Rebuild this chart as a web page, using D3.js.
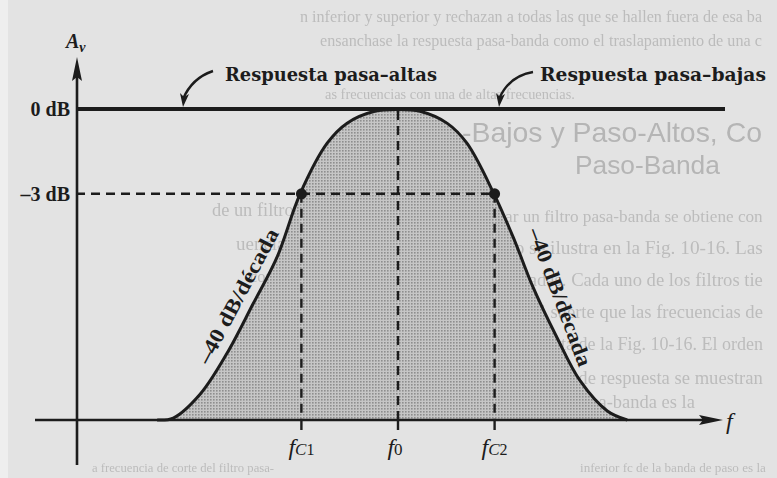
<!DOCTYPE html>
<html>
<head>
<meta charset="utf-8">
<script src="https://cdn.jsdelivr.net/npm/d3@7"></script>
<style>
  html, body { margin: 0; padding: 0; background: #e3e3e3; }
  svg { display: block; }
</style>
</head>
<body>
<svg id="chart" width="777" height="478"></svg>
<script>
// Band-pass response: normalised frequency position (0–100) and gain in dB
const freqPos = [12.6, 15.1, 19.3, 23.4, 27.5, 31.2, 34.8, 39.0, 42.1, 46.4, 50.0, 53.4, 57.6, 60.7, 64.9, 67.9, 71.0, 74.7, 78.3, 82.5, 85.6];
const gainDb  = [-11.0, -10.93, -10.08, -8.66, -6.89, -5.25, -3.0, -1.21, -0.50, -0.08, -0.02, -0.08, -0.50, -1.21, -3.0, -4.54, -6.32, -8.09, -9.62, -10.68, -11.0];

// Marked frequencies on the horizontal axis
const tickNames = ["fc1", "f0", "fc2"];
const tickPos   = [35, 50, 65];

// Gain levels marked on the vertical axis
const levelLabels = ["0 dB", "–3 dB"];
const levelDb     = [0, -3];

// Cut-off points (fc1, fc2) at the –3 dB level
const cutoffPos = [35, 65];
const cutoffDb  = [-3, -3];

// Callout texts
const calloutTexts = ["Respuesta pasa–altas", "Respuesta pasa–bajas"];
const slopeText = "–40 dB/década";

// Page text printed behind the figure (seen through the paper)
const backLines = [
  "n inferior y superior y rechazan a todas las que se hallen fuera de esa ba",
  "ensanchase la respuesta pasa-banda como el traslapamiento de una c",
  "as frecuencias con una de altas frecuencias.",
  "ar un filtro pasa-banda se obtiene con",
  "no se ilustra en la Fig. 10-16. Las",
  "paradas. Cada uno de los filtros tie",
  "de tal suerte que las frecuencias de",
  "ompuesta de la Fig. 10-16. El orden",
  "as curvas de respuesta se muestran",
  "del filtro pasa-banda es la",
  "inferior fc de la banda de paso es la",
  "de un filtro pasa-altas con",
  "uencias de corte están",
  "configuración Sallen y",
  "ada, indicadas en la",
  "filtro se escoge",
  "omo se indica. La",
  "a frecuencia de corte del filtro pasa-"
];
const backX   = [300, 320, 325, 505, 505, 505, 505, 505, 505, 505, 580, 212, 236, 250, 262, 290, 282, 92];
const backY   = [22, 46, 99, 222, 254, 286, 318, 350, 384, 408, 472, 216, 250, 282, 314, 346, 378, 472];
const backLen = [462, 442, 250, 258, 258, 258, 258, 258, 258, 190, 186, 190, 166, 150, 140, 112, 120, 182];
const headLines = ["-Bajos  y Paso-Altos, Co", "Paso-Banda"];
const headX   = [462, 575];
const headY   = [142, 174];
const headLen = [300, 145];

const svg = d3.select("#chart");
const W = 777, H = 478;

const x = d3.scaleLinear().domain([0, 100]).range([76, 720]);
const y = d3.scaleLinear().domain([-11, 0]).range([420, 109]);

const ink = "#1c1c1c";

// paper
svg.append("rect").attr("width", W).attr("height", H).attr("fill", "#e3e3e3");
svg.append("rect").attr("width", 8).attr("height", H).attr("fill", "#eeeeee");

const defs = svg.append("defs");
defs.append("filter").attr("id", "soft")
  .append("feGaussianBlur").attr("stdDeviation", 0.5);
const pat = defs.append("pattern").attr("id", "stipple")
  .attr("width", 3).attr("height", 3).attr("patternUnits", "userSpaceOnUse");
pat.append("rect").attr("width", 3).attr("height", 3).attr("fill", "#c6c6c6");
pat.append("rect").attr("width", 1.6).attr("height", 1.6).attr("fill", "#8e8e8e");

// size a line of text so that its natural width equals the wanted length
function fitWidth(sel, lens, base) {
  sel.each(function (d, i) {
    const node = this;
    node.setAttribute("font-size", base);
    const w = node.getComputedTextLength();
    if (w > 0) node.setAttribute("font-size", (base * lens[i] / w).toFixed(2));
  });
}

// show-through page text
const back = svg.append("g").attr("filter", "url(#soft)");
const bodyText = back.selectAll("text.body").data(backLines).join("text").attr("class", "body")
  .attr("x", (d, i) => backX[i]).attr("y", (d, i) => backY[i])
  .attr("font-family", "'Liberation Serif', serif")
  .attr("fill", "#bcbcbc").text(d => d);
fitWidth(bodyText, backLen, 19);
const headText = back.selectAll("text.head").data(headLines).join("text").attr("class", "head")
  .attr("x", (d, i) => headX[i]).attr("y", (d, i) => headY[i])
  .attr("font-family", "'Liberation Sans', sans-serif")
  .attr("fill", "#b5b5b5").text(d => d);
fitWidth(headText, headLen, 25);

const pts = freqPos.map((f, i) => [f, gainDb[i]]);
const curve = d3.curveCatmullRom.alpha(0.5);

// shaded pass band
const area = d3.area()
  .x(d => x(d[0])).y0(y(-11)).y1(d => y(d[1]))
  .curve(curve);
svg.append("path").datum(pts).attr("d", area).attr("fill", "url(#stipple)");

// dashed guides
const dash = "9,6";
svg.append("line")
  .attr("x1", x(0)).attr("x2", x(cutoffPos[1]))
  .attr("y1", y(-3)).attr("y2", y(-3))
  .attr("stroke", ink).attr("stroke-width", 2.4).attr("stroke-dasharray", dash);
svg.selectAll("line.guide").data(tickPos).join("line").attr("class", "guide")
  .attr("x1", d => x(d)).attr("x2", d => x(d))
  .attr("y1", (d, i) => i === 1 ? y(0) + 2 : y(-3))
  .attr("y2", y(-11))
  .attr("stroke", ink).attr("stroke-width", 2.4).attr("stroke-dasharray", dash);
// tick stubs below the axis
svg.selectAll("line.tick").data(tickPos).join("line").attr("class", "tick")
  .attr("x1", d => x(d)).attr("x2", d => x(d))
  .attr("y1", y(-11)).attr("y2", y(-11) + 10)
  .attr("stroke", ink).attr("stroke-width", 2.4);

// axes
svg.append("line").attr("x1", x(0) + 1).attr("x2", x(0) + 1)
  .attr("y1", 465).attr("y2", 70).attr("stroke", ink).attr("stroke-width", 2.6);
svg.append("path").attr("d", `M${x(0)+1},57 L${x(0)+6},81 L${x(0)+1},77 L${x(0)-4},81 Z`).attr("fill", ink);
svg.append("line").attr("x1", 35).attr("x2", 708)
  .attr("y1", y(-11)).attr("y2", y(-11)).attr("stroke", ink).attr("stroke-width", 2.6);
svg.append("path").attr("d", `M723,${y(-11)} L699,${y(-11)-5} L703,${y(-11)} L699,${y(-11)+5} Z`).attr("fill", ink);

// 0 dB reference line (high-pass and low-pass asymptotes)
svg.append("line").attr("x1", x(0)).attr("x2", 725)
  .attr("y1", y(0)).attr("y2", y(0)).attr("stroke", ink).attr("stroke-width", 4);

// response curve
const line = d3.line().x(d => x(d[0])).y(d => y(d[1])).curve(curve);
svg.append("path").datum(pts).attr("d", line)
  .attr("fill", "none").attr("stroke", ink).attr("stroke-width", 3);

// cut-off points
svg.selectAll("circle.cut").data(cutoffPos).join("circle").attr("class", "cut")
  .attr("cx", d => x(d)).attr("cy", (d, i) => y(cutoffDb[i])).attr("r", 5.5).attr("fill", ink);

// level labels
svg.selectAll("text.level").data(levelLabels).join("text").attr("class", "level")
  .attr("x", 70).attr("y", (d, i) => y(levelDb[i]) + 7)
  .attr("text-anchor", "end")
  .attr("font-family", "'Liberation Serif', serif").attr("font-weight", "bold")
  .attr("font-size", 20).attr("fill", ink).text(d => d);

// axis titles
const av = svg.append("text").attr("x", 66).attr("y", 48)
  .attr("font-family", "'Liberation Serif', serif").attr("font-style", "italic")
  .attr("font-weight", "bold").attr("fill", ink);
av.append("tspan").attr("font-size", 20).text("A");
av.append("tspan").attr("font-size", 14).attr("dy", 4).text("v");

svg.append("text").attr("x", 726).attr("y", 429)
  .attr("font-family", "'Liberation Serif', serif").attr("font-style", "italic")
  .attr("font-size", 24).attr("fill", ink).text("f");

// frequency labels
svg.selectAll("text.freq").data(tickNames).join("text").attr("class", "freq")
  .attr("x", (d, i) => x(tickPos[i]) + (i === 1 ? -3 : 0)).attr("y", 455)
  .attr("text-anchor", "middle")
  .attr("font-family", "'Liberation Serif', serif").attr("font-style", "italic")
  .attr("fill", ink)
  .each(function (d) {
    const t = d3.select(this);
    t.append("tspan").attr("font-size", 24).text("f");
    if (d === "f0") {
      t.append("tspan").attr("font-size", 17).attr("font-style", "normal").text("0");
    } else {
      t.append("tspan").attr("font-size", 17).text("C");
      t.append("tspan").attr("font-size", 16).attr("font-style", "normal").text(d.slice(-1));
    }
  });

// callouts
const calloutX = [225, 540];
const calloutLen = [212, 226];
svg.selectAll("text.callout").data(calloutTexts).join("text").attr("class", "callout")
  .attr("x", (d, i) => calloutX[i]).attr("y", 81)
  .attr("textLength", (d, i) => calloutLen[i]).attr("lengthAdjust", "spacingAndGlyphs")
  .attr("font-family", "'DejaVu Serif', serif").attr("font-weight", "bold")
  .attr("font-size", 19).attr("fill", ink).text(d => d);

const leaders = [
  { from: [213, 71], ctrl: [192, 78], to: [183, 107] },
  { from: [533, 72], ctrl: [509, 76], to: [499, 107] }
];
leaders.forEach(l => {
  svg.append("path")
    .attr("d", `M${l.from[0]},${l.from[1]} Q${l.ctrl[0]},${l.ctrl[1]} ${l.to[0]},${l.to[1] - 8}`)
    .attr("fill", "none").attr("stroke", ink).attr("stroke-width", 2.4);
  const tx = l.to[0], ty = l.to[1];
  svg.append("path")
    .attr("d", `M${tx},${ty} L${tx - 3},${ty - 14} L${tx + 1},${ty - 10} L${tx + 6},${ty - 13} Z`)
    .attr("fill", ink);
});

// slope annotations along the skirts
const slopes = [
  { cx: 238, cy: 296, angle: -62, len: 150 },
  { cx: 560, cy: 297, angle: 69.5, len: 146 }
];
slopes.forEach(s => {
  svg.append("text")
    .attr("transform", `translate(${s.cx},${s.cy}) rotate(${s.angle})`)
    .attr("text-anchor", "middle").attr("dy", 7)
    .attr("textLength", s.len).attr("lengthAdjust", "spacingAndGlyphs")
    .attr("font-family", "'Liberation Serif', serif").attr("font-weight", "bold")
    .attr("font-size", 21).attr("fill", ink).text(slopeText);
});
</script>
</body>
</html>
